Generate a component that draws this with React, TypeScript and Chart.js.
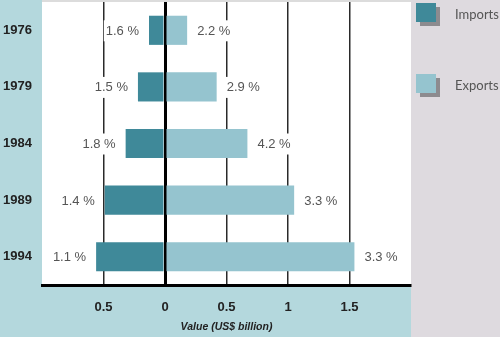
import React, { useEffect, useRef } from "react";
import { Chart, registerables } from "chart.js";

Chart.register(...registerables);

const years = ["1976", "1979", "1984", "1989", "1994"];
const imports = [-0.13, -0.22, -0.32, -0.49, -0.56];
const exports_ = [0.18, 0.42, 0.67, 1.05, 1.54];
const importPct = ["1.6 %", "1.5 %", "1.8 %", "1.4 %", "1.1 %"];
const exportPct = ["2.2 %", "2.9 %", "4.2 %", "3.3 %", "3.3 %"];
const legendLabels = ["Imports", "Exports"];

const IMPORT_COLOR = "#3f8999";
const EXPORT_COLOR = "#95c4cf";
const BLUE_BG = "#b4d8dd";
const PANEL_BG = "#dedadf";

const bgPlugin = {
  id: "bgPlugin",
  beforeDraw(chart: any) {
    const { ctx, chartArea, width, height } = chart;
    ctx.save();
    ctx.fillStyle = BLUE_BG;
    ctx.fillRect(0, 0, chartArea.right, height);
    ctx.fillStyle = PANEL_BG;
    ctx.fillRect(chartArea.right, 0, width - chartArea.right, height);
    ctx.fillStyle = "#ffffff";
    ctx.fillRect(chartArea.left, chartArea.top, chartArea.right - chartArea.left, chartArea.bottom - chartArea.top);
    ctx.fillStyle = "#dcdcdc";
    ctx.fillRect(chartArea.left, 0, chartArea.right - chartArea.left, chartArea.top);
    ctx.restore();
  },
  afterDraw(chart: any) {
    const { ctx, chartArea } = chart;
    ctx.save();
    // percent labels with white backing
    ctx.font = "13px 'Liberation Sans', Arial, sans-serif";
    ctx.textBaseline = "middle";
    const m0 = chart.getDatasetMeta(0);
    const m1 = chart.getDatasetMeta(1);
    const drawLabel = (text: string, x: number, y: number, align: "left" | "right") => {
      const w = ctx.measureText(text).width;
      const left = align === "right" ? x - w : x;
      ctx.fillStyle = "#ffffff";
      ctx.fillRect(left - 2, y - 10, w + 4, 21);
      ctx.fillStyle = "#555";
      ctx.textAlign = align;
      ctx.fillText(text, x, y + 1);
    };
    m0.data.forEach((bar: any, i: number) => drawLabel(importPct[i], bar.x - 10, bar.y, "right"));
    m1.data.forEach((bar: any, i: number) => drawLabel(exportPct[i], bar.x + 10, bar.y, "left"));
    // legend
    const colors = [IMPORT_COLOR, EXPORT_COLOR];
    const x0 = chartArea.right + 5;
    const ys = [3, 74];
    legendLabels.forEach((lab, i) => {
      const y = ys[i];
      ctx.fillStyle = "#8d8b8f";
      ctx.fillRect(x0 + 4, y + 4, 20, 19);
      ctx.fillStyle = colors[i];
      ctx.fillRect(x0, y, 20, 19);
      ctx.fillStyle = "#555";
      ctx.font = "13px Lato, 'Liberation Sans', sans-serif";
      ctx.textAlign = "left";
      ctx.textBaseline = "middle";
      ctx.fillText(lab, x0 + 39, y + 12);
    });
    ctx.restore();
  },
};

export default function App() {
  const ref = useRef<HTMLCanvasElement | null>(null);
  useEffect(() => {
    if (!ref.current) return;
    Chart.defaults.font.family = "'Liberation Sans', Arial, sans-serif";
    const chart = new Chart(ref.current, {
      type: "bar",
      data: {
        labels: years,
        datasets: [
          { label: legendLabels[0], data: imports, backgroundColor: IMPORT_COLOR, barPercentage: 1, categoryPercentage: 0.515 },
          { label: legendLabels[1], data: exports_, backgroundColor: EXPORT_COLOR, barPercentage: 1, categoryPercentage: 0.515 },
        ],
      },
      options: {
        indexAxis: "y",
        animation: false,
        responsive: true,
        maintainAspectRatio: false,
        layout: { autoPadding: false, padding: { top: 2, right: 89, left: 0, bottom: 0 } },
        plugins: { legend: { display: false }, tooltip: { enabled: false } },
        scales: {
          x: {
            stacked: true,
            min: -1,
            max: 2,
            afterFit(scale: any) {
              scale.height = 52;
              scale.paddingLeft = 0;
              scale.paddingRight = 0;
              scale.paddingTop = 0;
              scale.paddingBottom = 0;
            },
            ticks: {
              stepSize: 0.5,
              padding: 15,
              color: "#222",
              font: { size: 13, weight: "bold" },
              callback: (v: any) => {
                const n = Number(v);
                if (n <= -1 || n >= 2) return "";
                return String(Math.abs(n));
              },
            },
            grid: {
              drawTicks: false,
              color: (c: any) => {
                const v = c.tick ? c.tick.value : null;
                if (v === 0) return "#000";
                if (v === -1 || v === 2) return "rgba(0,0,0,0)";
                return "#2a2a2a";
              },
              lineWidth: (c: any) => (c.tick && c.tick.value === 0 ? 3 : 1.5),
            },
            border: { display: true, color: "#000", width: 3 },
            title: {
              display: true,
              text: "Value (US$ billion)",
              color: "#222",
              font: { size: 10.5, weight: "bold", style: "italic" },
              padding: { top: 0, bottom: 4 },
            },
          },
          y: {
            stacked: true,
            afterFit(scale: any) {
              scale.width = 42;
              scale.paddingLeft = 0;
              scale.paddingRight = 0;
              scale.paddingTop = 0;
              scale.paddingBottom = 0;
            },
            ticks: {
              padding: 10,
              color: "#222",
              font: { size: 13, weight: "bold" },
            },
            grid: { display: false, drawTicks: false },
            border: { display: false },
          },
        },
      },
      plugins: [bgPlugin],
    } as any);
    return () => chart.destroy();
  }, []);
  return (
    <div style={{ position: "absolute", left: 0, top: 0, width: 500, height: 337 }}>
      <canvas ref={ref} />
    </div>
  );
}
